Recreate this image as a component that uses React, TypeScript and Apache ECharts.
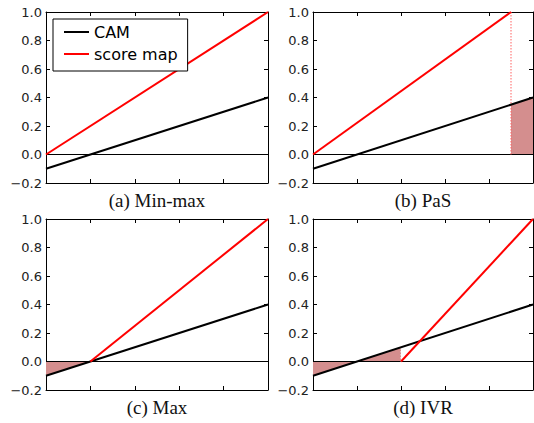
import React, { useEffect, useRef } from "react";
import * as echarts from "echarts";

// ---- data ----
const camX = [0, 1];
const camY = [-0.1, 0.4];
const zeroX = [0, 1];
const zeroY = [0, 0];

const panelTitles = ["(a) Min-max", "(b) PaS", "(c) Max", "(d) IVR"];
// score map line per panel
const scoreX = [
  [0, 1],
  [0, 0.9],
  [0.2, 1],
  [0.4, 1],
];
const scoreY = [
  [0, 1],
  [0, 1],
  [0, 1],
  [0, 1],
];
// shaded region (between CAM and 0) per panel
const shadeX: number[][] = [[], [0.9, 1], [0, 0.2], [0, 0.4]];
const shadeY: number[][] = [[], [0.35, 0.4], [-0.1, 0], [-0.1, 0.1]];
// dotted cut-off line per panel
const cutX: number[][] = [[], [0.9, 0.9], [], [0.4, 0.4]];
const cutY: number[][] = [[], [0, 1], [], [0, 0.1]];
const cutColor = ["", "#ff6060", "", "#ffffff"];

const yMin = -0.2;
const yMax = 1.0;
const yStep = 0.2;
const xMin = 0;
const xMax = 1;
const xStep = 0.2;

const zip = (xs: number[], ys: number[]) => xs.map((x, i) => [x, ys[i]]);

const grids = [
  { left: 46, top: 12, width: 222, height: 171 },
  { left: 313, top: 12, width: 220, height: 171 },
  { left: 46, top: 219, width: 222, height: 171 },
  { left: 313, top: 219, width: 220, height: 171 },
];

export default function App() {
  const ref = useRef<HTMLDivElement>(null);
  useEffect(() => {
    if (!ref.current) return;
    const chart = echarts.init(ref.current, null, { renderer: "svg" });
    const xAxis: any[] = [];
    const yAxis: any[] = [];
    const series: any[] = [];
    const graphic: any[] = [];
    const axisLine = { show: true, onZero: false, lineStyle: { color: "#000", width: 1 } };
    const tick = { show: true, inside: true, length: 4, lineStyle: { color: "#000", width: 1 } };
    grids.forEach((g, i) => {
      ["bottom", "top"].forEach((pos) => {
        xAxis.push({
          type: "value",
          gridIndex: i,
          position: pos,
          min: xMin,
          max: xMax,
          interval: xStep,
          axisLine,
          axisTick: tick,
          axisLabel: { show: false },
          splitLine: { show: false },
        });
      });
      ["left", "right"].forEach((pos) => {
        yAxis.push({
          type: "value",
          gridIndex: i,
          position: pos,
          min: yMin,
          max: yMax,
          interval: yStep,
          axisLine,
          axisTick: tick,
          axisLabel: {
            show: pos === "left",
            margin: 4,
            fontFamily: "DejaVu Sans",
            fontSize: 13,
            color: "#222",
            formatter: (v: number) => v.toFixed(1).replace("-", "\u2212"),
          },
          splitLine: { show: false },
        });
      });
      const xi = 2 * i;
      const yi = 2 * i;
      if (shadeX[i].length) {
        series.push({
          type: "line",
          name: "shade" + i,
          xAxisIndex: xi,
          yAxisIndex: yi,
          data: zip(shadeX[i], shadeY[i]),
          symbol: "none",
          lineStyle: { width: 0 },
          areaStyle: { color: "#d48e8e", opacity: 1, origin: "auto" },
          z: 1,
        });
      }
      series.push({
        type: "line",
        name: "zero" + i,
        xAxisIndex: xi,
        yAxisIndex: yi,
        data: zip(zeroX, zeroY),
        symbol: "none",
        lineStyle: { color: "#000", width: 1 },
        z: 2,
      });
      if (cutX[i].length) {
        series.push({
          type: "line",
          name: "cut" + i,
          xAxisIndex: xi,
          yAxisIndex: yi,
          data: zip(cutX[i], cutY[i]),
          symbol: "none",
          lineStyle: { color: cutColor[i], width: 1, type: [1.5, 1.5] },
          z: 3,
        });
      }
      series.push({
        type: "line",
        name: "CAM",
        xAxisIndex: xi,
        yAxisIndex: yi,
        data: zip(camX, camY),
        symbol: "none",
        lineStyle: { color: "#000", width: 2 },
        itemStyle: { color: "#000" },
        z: 4,
      });
      series.push({
        type: "line",
        name: "score map",
        xAxisIndex: xi,
        yAxisIndex: yi,
        data: zip(scoreX[i], scoreY[i]),
        symbol: "none",
        lineStyle: { color: "#ff0000", width: 2 },
        itemStyle: { color: "#ff0000" },
        z: 5,
      });
      graphic.push({
        type: "text",
        x: g.left + g.width / 2,
        y: g.top + g.height + 17,
        style: {
          text: panelTitles[i],
          textAlign: "center",
          textVerticalAlign: "middle",
          fontFamily: "Liberation Serif",
          fontSize: 19,
          fill: "#111",
        },
      });
    });
    chart.setOption({
      animation: false,
      backgroundColor: "#fff",
      grid: grids.map((g) => ({ ...g, containLabel: false })),
      xAxis,
      yAxis,
      series,
      graphic,
      legend: {
        data: [
          { name: "CAM", icon: "rect", itemStyle: { color: "#000" } },
          { name: "score map", icon: "rect", itemStyle: { color: "#ff0000" } },
        ],
        orient: "vertical",
        left: 53,
        top: 19,
        backgroundColor: "#fff",
        borderColor: "#000",
        borderWidth: 1,
        borderRadius: 0,
        padding: [5, 10, 9, 11],
        itemGap: 6,
        itemWidth: 25,
        itemHeight: 2,
        itemTextGap: 18,
        selectedMode: false,
        textStyle: { fontFamily: "DejaVu Sans", fontSize: 16, color: "#000" },
        z: 10,
      },
    });
    return () => chart.dispose();
  }, []);
  return (
    <div
      ref={ref}
      style={{ position: "fixed", left: 0, top: 0, width: 534, height: 423 }}
    />
  );
}
